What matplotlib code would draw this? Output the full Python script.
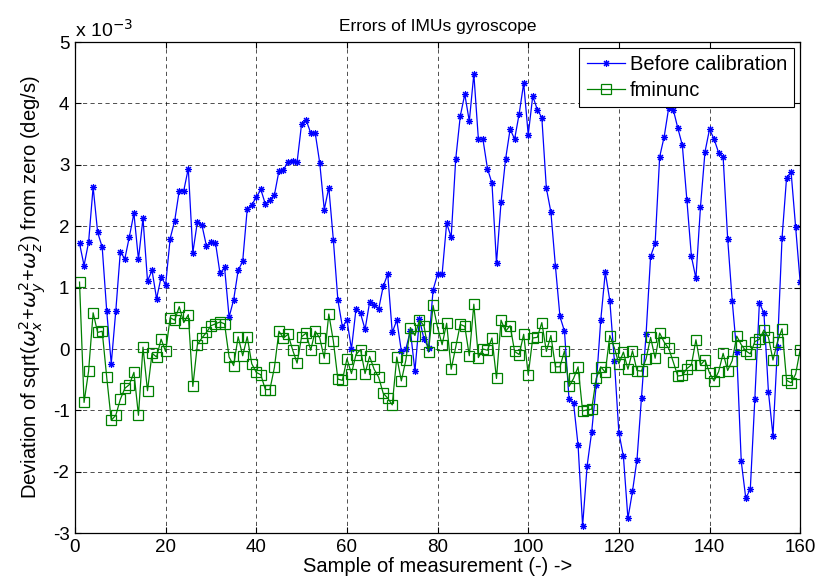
import numpy as np
import matplotlib
matplotlib.use("Agg")
import matplotlib.pyplot as plt
from matplotlib.ticker import FuncFormatter

plt.rcParams['font.family'] = ['Liberation Sans', 'DejaVu Sans']

samples = list(range(1, 161))

# values in units of 1e-3 deg/s
before_calibration = [
    1.72, 1.36, 1.74, 2.64, 1.90, 1.66, 0.62, -0.24, 0.62, 1.58,
    1.47, 1.83, 2.21, 1.46, 2.13, 1.11, 1.28, 0.82, 1.17, 1.05,
    1.80, 2.09, 2.58, 2.58, 2.94, 1.57, 2.07, 2.02, 1.68, 1.74,
    1.73, 1.23, 1.33, 0.52, 0.80, 1.28, 1.43, 2.28, 2.35, 2.47,
    2.60, 2.36, 2.43, 2.51, 2.90, 2.92, 3.05, 3.07, 3.04, 3.67,
    3.73, 3.52, 3.52, 3.03, 2.27, 2.63, 1.78, 0.80, 0.36, 0.47,
    0.00, 0.65, 0.58, 0.32, 0.76, 0.72, 0.65, 1.02, 1.22, 0.27,
    0.47, -0.03, 0.00, 0.30, -0.36, 0.49, 0.16, 0.02, 0.96, 1.22,
    1.22, 2.05, 1.82, 3.09, 3.79, 4.15, 3.71, 4.48, 3.42, 3.42,
    2.94, 2.70, 1.40, 2.39, 3.09, 3.58, 3.42, 3.83, 4.33, 3.49,
    4.12, 3.90, 3.77, 2.62, 2.23, 1.35, 0.53, 0.29, -0.82, -0.88,
    -1.57, -2.88, -1.90, -1.35, -0.59, 0.47, 1.25, 0.79, -0.19, -1.36,
    -1.75, -2.76, -2.32, -1.80, -0.79, 0.24, 1.51, 1.72, 3.13, 3.46,
    3.93, 3.90, 3.60, 3.32, 2.43, 1.51, 1.15, 2.31, 3.21, 3.58,
    3.42, 3.20, 3.13, 1.80, 0.79, -0.05, -1.83, -2.43, -2.28, -0.81,
    0.75, 0.59, -0.70, -1.41, 0.04, 1.81, 2.79, 2.88, 1.98, 1.09,
]

fminunc = [
    1.09, -0.87, -0.36, 0.59, 0.27, 0.29, -0.46, -1.16, -1.08, -0.82,
    -0.64, -0.58, -0.38, -1.08, 0.03, -0.68, -0.07, -0.13, 0.16, -0.04,
    0.51, 0.47, 0.69, 0.43, 0.56, -0.61, 0.07, 0.18, 0.27, 0.38,
    0.41, 0.44, 0.41, -0.13, -0.27, 0.20, -0.11, 0.20, -0.24, -0.38,
    -0.42, -0.66, -0.66, -0.30, 0.29, 0.18, 0.24, -0.01, -0.23, 0.20,
    0.26, -0.02, 0.29, 0.18, -0.15, 0.57, 0.13, -0.49, -0.51, -0.16,
    -0.40, -0.09, -0.01, -0.40, -0.12, -0.33, -0.46, -0.72, -0.80, -0.91,
    -0.13, -0.52, -0.18, 0.35, 0.22, 0.47, 0.38, -0.05, 0.71, 0.35,
    0.07, 0.42, -0.33, 0.03, 0.40, 0.37, -0.11, 0.73, -0.14, 0.00,
    -0.02, 0.18, -0.48, 0.47, 0.29, 0.38, -0.04, -0.09, 0.24, -0.42,
    0.18, 0.19, 0.43, -0.04, 0.22, -0.29, -0.29, -0.03, -0.61, -0.48,
    -0.29, -1.01, -0.99, -0.98, -0.48, -0.29, -0.38, 0.22, 0.02, -0.24,
    -0.05, -0.33, -0.03, -0.35, -0.36, -0.16, 0.19, -0.15, 0.26, 0.11,
    0.01, -0.21, -0.44, -0.43, -0.32, -0.26, 0.15, -0.26, -0.18, -0.39,
    -0.52, -0.37, -0.07, -0.35, -0.19, 0.21, 0.07, -0.03, -0.08, 0.12,
    0.16, 0.31, 0.19, -0.18, 0.12, 0.33, -0.51, -0.55, -0.41, -0.01,
]

xticks = [0, 20, 40, 60, 80, 100, 120, 140, 160]
yticks = [-3, -2, -1, 0, 1, 2, 3, 4, 5]

scale = 1e-3
fig = plt.figure(figsize=(8.25, 5.84), dpi=100)
ax = fig.add_axes([0.0909, 0.087, 0.879, 0.841])

ax.plot(samples, np.array(before_calibration) * scale, '-', marker=(8, 2, 0),
        color=(0, 0, 1), lw=0.9, ms=5, mew=0.8, label='Before calibration')
ax.plot(samples, np.array(fminunc) * scale, '-s', color=(0, 0.5, 0),
        lw=0.9, ms=6.5, mew=0.9, mfc='none', label='fminunc')

ax.set_xlim(0, 160)
ax.set_ylim(-3 * scale, 5 * scale)
ax.set_xticks(xticks)
ax.set_yticks([v * scale for v in yticks])
ax.yaxis.set_major_formatter(FuncFormatter(lambda v, p: f"{int(round(v / scale))}"))
ax.tick_params(direction='in', length=4, width=0.8, labelsize=13.5, top=True, right=True, pad=4)
ax.grid(True, color='black', linestyle=(0, (5, 4)), linewidth=0.6, alpha=0.8)
for s in ax.spines.values():
    s.set_linewidth(0.9)

ax.set_title('Errors of IMUs gyroscope', fontsize=12.5, pad=8)
ax.set_xlabel('Sample of measurement (-) ->', fontsize=14.5, labelpad=1)
ax.set_ylabel(r'Deviation of sqrt($\omega_x^2$+$\omega_y^2$+$\omega_z^2$) from zero (deg/s)',
              fontsize=14.5, labelpad=3)
ax.text(0.0, 1.003, r'x 10$^{-3}$', transform=ax.transAxes, fontsize=14,
        ha='left', va='bottom')

leg = ax.legend(loc='upper right', fontsize=14.5, fancybox=False, framealpha=1,
                edgecolor='black', borderpad=0.35, handlelength=1.9,
                labelspacing=0.35, borderaxespad=0.3, handletextpad=0.25)
leg.get_frame().set_linewidth(0.8)

fig.savefig('out.png', dpi=100)
